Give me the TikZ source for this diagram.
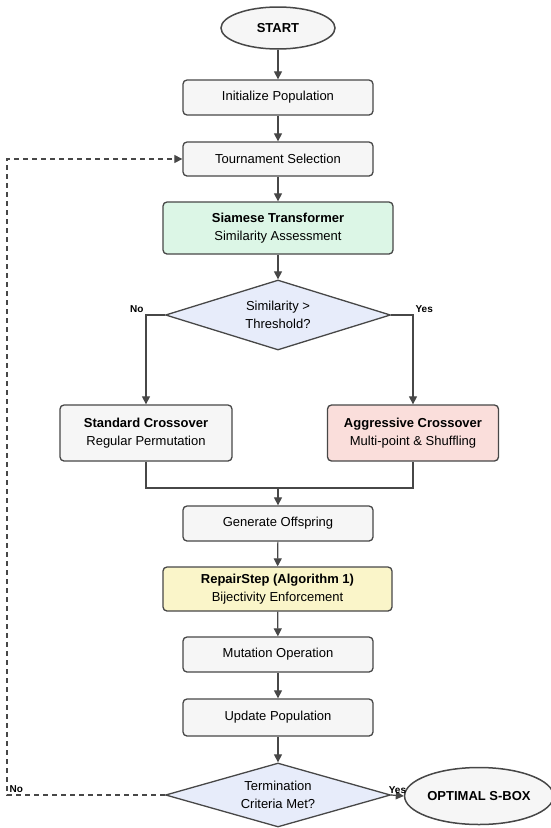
\documentclass[tikz,border=0pt]{standalone}
\usepackage{fontspec}
\setmainfont{Liberation Sans}
\usetikzlibrary{shapes.geometric, arrows.meta}

\definecolor{edgegray}{HTML}{474747}
\definecolor{boxgray}{HTML}{F6F6F6}
\definecolor{mintfill}{HTML}{DCF6E6}
\definecolor{bluefill}{HTML}{E7ECFA}
\definecolor{pinkfill}{HTML}{FADEDB}
\definecolor{yellowfill}{HTML}{FAF5C9}

\tikzset{
    procbox/.style={draw=edgegray, line width=1.3pt, rounded corners=4pt, fill=boxgray,
        minimum width=190pt, minimum height=35pt, align=center,
        font=\fontsize{13}{17.5}\selectfont},
    decision/.style={draw=edgegray, line width=1.3pt, fill=bluefill, shape=diamond,
        aspect=3.2, inner sep=0pt, minimum width=225pt, align=center,
        font=\fontsize{13}{17.5}\selectfont},
    terminal/.style={draw=edgegray, line width=1.5pt, fill=boxgray, shape=ellipse,
        inner sep=1pt, font=\fontsize{13}{15}\selectfont\bfseries},
    flow/.style={draw=edgegray, line width=1.2pt, -{Triangle[length=8pt, width=8pt]}},
    link/.style={draw=edgegray, line width=1.2pt},
    branchlabel/.style={font=\fontsize{10}{12}\selectfont\bfseries, inner sep=2pt}
}

\begin{document}
\begin{tikzpicture}[x=1pt, y=-1pt]
        \useasboundingbox (0,0) rectangle (550,828);

        % Start and main loop boxes
        \node[terminal, minimum width=114pt, minimum height=42pt] (start) at (278,28) {START};
        \node[procbox] (init) at (278,97.5) {Initialize Population};
        \node[procbox, minimum height=34pt] (tour) at (278,159) {Tournament Selection};
        \node[procbox, fill=mintfill, minimum width=230pt, minimum height=52pt] (siam) at (278,228)
            {{\bfseries Siamese Transformer}\\Similarity Assessment};

        % Similarity check
        \node[decision, minimum height=70pt] (sim) at (278,315) {Similarity >\\Threshold?};

        % Crossover variants
        \node[procbox, minimum width=172pt, minimum height=56pt] (std) at (146,433)
            {{\bfseries Standard Crossover}\\Regular Permutation};
        \node[procbox, fill=pinkfill, minimum width=171pt, minimum height=56pt] (agg) at (413,433)
            {{\bfseries Aggressive Crossover}\\Multi-point \& Shuffling};
        \coordinate (merge) at (278,488);

        % Offspring handling
        \node[procbox] (gen) at (278,523.5) {Generate Offspring};
        \node[procbox, fill=yellowfill, minimum width=229pt, minimum height=44pt] (rep) at (277.5,589)
            {{\bfseries RepairStep (Algorithm 1)}\\Bijectivity Enforcement};
        \node[procbox] (mut) at (278,654.5) {Mutation Operation};
        \node[procbox, minimum height=37pt] (upd) at (278,717.5) {Update Population};

        % Termination
        \node[decision, minimum height=64pt] (term) at (278,795) {Termination\\Criteria Met?};
        \node[terminal, minimum width=136pt, minimum height=57pt] (opt) at (479,796) {OPTIMAL S-BOX};
        \coordinate (back) at (7,0);

        % Connectors
        \draw[flow] (start) -- (init);
        \draw[flow] (init) -- (tour);
        \draw[flow] (tour) -- (siam);
        \draw[flow] (siam) -- (sim);
        \draw[flow] (sim.west) -| node[branchlabel, pos=0.5, above left] {No} (std.north);
        \draw[flow] (sim.east) -| node[branchlabel, pos=0.5, above right] {Yes} (agg.north);
        \draw[link] (std.south) |- (merge) -| (agg.south);
        \draw[flow] (merge) -- (gen.north);
        \draw[flow] (gen) -- (rep);
        \draw[flow] (rep) -- (mut);
        \draw[flow] (mut) -- (upd);
        \draw[flow] (upd) -- (term);
        \draw[flow] (term.east) -- node[branchlabel, above, inner sep=1pt] {Yes} (opt.west);

        % Loop back
        \draw[flow, dash pattern=on 5pt off 4pt] (term.west) -- (term.west -| back)
            node[branchlabel, above right] {No} |- (tour.west);
    \end{tikzpicture}
\end{document}
